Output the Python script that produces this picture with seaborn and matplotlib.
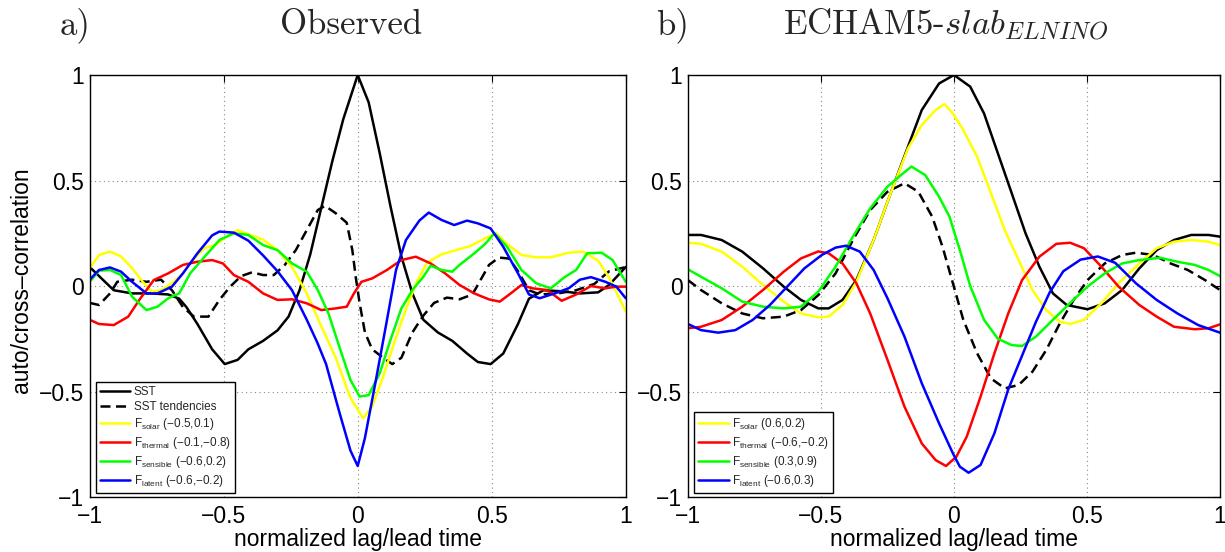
import numpy as np
import pandas as pd
import matplotlib
matplotlib.use("Agg")
import matplotlib.pyplot as plt
import seaborn as sns
from matplotlib.lines import Line2D

# ---------------- data: panel a (Observed) ----------------
a_sst_x = [-1.0, -0.91, -0.842, -0.774, -0.707, -0.666, -0.639, -0.598, -0.543, -0.496, -0.448, -0.408, -0.353, -0.299,
           -0.258, -0.217, -0.177, -0.136, -0.095, -0.054, 0.0, 0.041, 0.082, 0.122, 0.163, 0.204, 0.245, 0.299, 0.353,
           0.408, 0.448, 0.496, 0.543, 0.598, 0.639, 0.693, 0.761, 0.829, 0.897, 0.938, 1.0]
a_sst_y = [0.09, -0.02, -0.035, -0.035, -0.04, -0.06, -0.10, -0.18, -0.30, -0.37, -0.35, -0.30, -0.26, -0.21,
           -0.145, -0.02, 0.15, 0.37, 0.59, 0.79, 1.0, 0.87, 0.63, 0.38, 0.14, -0.035, -0.16, -0.22, -0.26,
           -0.32, -0.36, -0.37, -0.32, -0.18, -0.06, -0.02, -0.025, -0.035, -0.03, 0.005, 0.09]

a_tend_x = [-1.0, -0.965, -0.924, -0.897, -0.842, -0.788, -0.734, -0.693, -0.652, -0.611, -0.557, -0.516, -0.476,
            -0.435, -0.394, -0.353, -0.313, -0.272, -0.231, -0.190, -0.149, -0.122, -0.082, -0.041, -0.020, -0.007,
            0.007, 0.027, 0.054, 0.095, 0.129, 0.163, 0.204, 0.245, 0.285, 0.333, 0.380, 0.428, 0.49, 0.527, 0.565,
            0.598, 0.639, 0.679, 0.747, 0.815, 0.883, 0.938, 1.0]
a_tend_y = [-0.08, -0.09, -0.035, 0.02, 0.03, 0.02, 0.03, -0.02, -0.10, -0.145, -0.145, -0.066, -0.003,
            0.047, 0.065, 0.052, 0.052, 0.10, 0.17, 0.265, 0.36, 0.38, 0.345, 0.30, 0.17, 0.04,
            -0.08, -0.22, -0.30, -0.34, -0.37, -0.34, -0.22, -0.14, -0.08, -0.055, -0.063, -0.04, 0.10, 0.135, 0.13,
            0.07, -0.02, -0.04, -0.035, -0.02, 0.01, 0.07, 0.09]

a_solar_x = [-1.0, -0.965, -0.924, -0.883, -0.842, -0.802, -0.768, -0.734, -0.693, -0.652, -0.611, -0.571, -0.530,
             -0.489, -0.448, -0.408, -0.353, -0.299, -0.245, -0.190, -0.136, -0.082, -0.027, 0.020, 0.054, 0.095,
             0.136, 0.177, 0.217, 0.258, 0.313, 0.367, 0.421, 0.476, 0.516, 0.557, 0.611, 0.666, 0.720, 0.788,
             0.842, 0.897, 0.938, 1.0]
a_solar_y = [0.085, 0.147, 0.163, 0.14, 0.085, 0.02, -0.027, -0.02, 0.013, 0.06, 0.13, 0.18, 0.195,
             0.235, 0.265, 0.245, 0.22, 0.17, 0.09, -0.035, -0.19, -0.34, -0.53, -0.627, -0.57, -0.43,
             -0.27, -0.12, 0.01, 0.11, 0.15, 0.17, 0.19, 0.226, 0.25, 0.2, 0.147, 0.136, 0.136, 0.158,
             0.163, 0.12, 0.04, -0.12]

a_thermal_x = [-1.0, -0.965, -0.91, -0.856, -0.815, -0.761, -0.707, -0.652, -0.598, -0.543, -0.503, -0.462, -0.408,
               -0.353, -0.299, -0.245, -0.190, -0.136, -0.082, -0.041, -0.014, 0.014, 0.054, 0.109, 0.163, 0.217,
               0.272, 0.326, 0.380, 0.435, 0.489, 0.530, 0.571, 0.611, 0.652, 0.707, 0.761, 0.815, 0.870, 0.924,
               0.965, 1.0]
a_thermal_y = [-0.16, -0.18, -0.185, -0.145, -0.066, 0.028, 0.06, 0.10, 0.115, 0.123, 0.107, 0.052, 0.02,
               -0.035, -0.066, -0.063, -0.082, -0.114, -0.106, -0.098, -0.035, 0.02, 0.036, 0.076, 0.123, 0.139,
               0.107, 0.06, 0.005, -0.035, -0.063, -0.074, -0.035, 0.005, -0.011, -0.019, -0.07, -0.04, 0.0, -0.011,
               -0.003, -0.003]

a_sens_x = [-1.0, -0.965, -0.924, -0.883, -0.842, -0.788, -0.747, -0.707, -0.666, -0.625, -0.571, -0.516, -0.462,
            -0.408, -0.353, -0.299, -0.245, -0.190, -0.149, -0.109, -0.068, -0.027, 0.007, 0.041, 0.082, 0.122,
            0.163, 0.204, 0.245, 0.272, 0.313, 0.353, 0.380, 0.435, 0.476, 0.510, 0.557, 0.611, 0.666, 0.720,
            0.774, 0.815, 0.856, 0.910, 0.951, 1.0]
a_sens_y = [0.02, 0.073, 0.076, 0.052, -0.05, -0.114, -0.098, -0.058, -0.035, 0.06, 0.139, 0.218, 0.25,
            0.242, 0.194, 0.17, 0.107, 0.068, -0.019, -0.13, -0.29, -0.445, -0.524, -0.517, -0.414, -0.256,
            -0.106, -0.019, 0.044, 0.096, 0.076, 0.068, 0.1, 0.155, 0.2, 0.25, 0.186, 0.076, 0.013, -0.011,
            0.044, 0.076, 0.155, 0.158, 0.123, 0.02]

a_lat_x = [-1.0, -0.965, -0.924, -0.883, -0.842, -0.788, -0.747, -0.693, -0.652, -0.598, -0.543, -0.516, -0.462,
           -0.408, -0.353, -0.299, -0.245, -0.19, -0.15, -0.118, -0.068, -0.027, 0.0, 0.027, 0.068, 0.105, 0.143,
           0.18, 0.23, 0.265, 0.313, 0.36, 0.408, 0.448, 0.496, 0.543, 0.598, 0.639, 0.679, 0.747, 0.788, 0.829,
           0.87, 0.924, 0.965, 1.0]
a_lat_y = [0.03, 0.076, 0.088, 0.068, 0.02, -0.035, -0.035, -0.003, 0.06, 0.155, 0.24, 0.258, 0.253,
           0.215, 0.145, 0.07, -0.02, -0.16, -0.27, -0.37, -0.6, -0.78, -0.853, -0.72, -0.445, -0.19, 0.076,
           0.218, 0.31, 0.348, 0.313, 0.289, 0.31, 0.297, 0.273, 0.186, 0.06, -0.04, -0.058, -0.03, -0.01, 0.03,
           0.042, 0.02, -0.003, -0.058]

# ---------------- data: panel b (ECHAM5-slab) ----------------
b_sst_x = [-1.0, -0.951, -0.873, -0.796, -0.718, -0.640, -0.575, -0.510, -0.471, -0.419, -0.367, -0.302, -0.238,
           -0.173, -0.121, -0.056, 0.0, 0.061, 0.113, 0.165, 0.217, 0.269, 0.321, 0.372, 0.424, 0.502, 0.567,
           0.632, 0.697, 0.762, 0.827, 0.892, 0.957, 1.0]
b_sst_y = [0.242, 0.242, 0.218, 0.163, 0.084, -0.003, -0.066, -0.106, -0.106, -0.066, 0.028, 0.218, 0.44,
           0.66, 0.834, 0.96, 1.0, 0.945, 0.818, 0.629, 0.44, 0.25, 0.092, -0.035, -0.09, -0.11, -0.082,
           -0.019, 0.084, 0.17, 0.218, 0.242, 0.242, 0.234]

b_tend_x = [-1.0, -0.951, -0.873, -0.796, -0.718, -0.640, -0.575, -0.510, -0.445, -0.380, -0.315, -0.250, -0.186,
            -0.134, -0.082, -0.043, -0.004, 0.035, 0.087, 0.139, 0.191, 0.243, 0.295, 0.347, 0.398, 0.450, 0.502,
            0.567, 0.632, 0.684, 0.749, 0.814, 0.879, 0.944, 1.0]
b_tend_y = [0.028, -0.019, -0.082, -0.13, -0.153, -0.145, -0.114, -0.043, 0.06, 0.218, 0.36, 0.447, 0.487,
            0.447, 0.329, 0.186, 0.013, -0.16, -0.319, -0.438, -0.485, -0.469, -0.406, -0.303, -0.177, -0.066,
            0.028, 0.107, 0.147, 0.158, 0.147, 0.107, 0.076, 0.028, -0.019]

b_solar_x = [-1.0, -0.951, -0.873, -0.796, -0.718, -0.640, -0.575, -0.510, -0.471, -0.419, -0.367, -0.302, -0.238,
             -0.173, -0.121, -0.069, -0.036, -0.004, 0.035, 0.087, 0.139, 0.191, 0.243, 0.295, 0.347, 0.398,
             0.437, 0.489, 0.554, 0.619, 0.697, 0.762, 0.827, 0.892, 0.957, 1.0]
b_solar_y = [0.205, 0.2, 0.163, 0.092, 0.005, -0.074, -0.13, -0.148, -0.145, -0.09, 0.02, 0.218, 0.44,
             0.652, 0.763, 0.834, 0.862, 0.818, 0.739, 0.613, 0.44, 0.265, 0.123, -0.019, -0.114, -0.169,
             -0.18, -0.16, -0.082, 0.013, 0.107, 0.179, 0.21, 0.218, 0.21, 0.194]

b_thermal_x = [-1.0, -0.951, -0.873, -0.796, -0.718, -0.640, -0.575, -0.510, -0.471, -0.419, -0.367, -0.315,
               -0.250, -0.186, -0.121, -0.069, -0.030, 0.009, 0.048, 0.100, 0.152, 0.204, 0.256, 0.321, 0.385,
               0.437, 0.489, 0.554, 0.619, 0.697, 0.762, 0.827, 0.905, 0.957, 1.0]
b_thermal_y = [-0.2, -0.193, -0.161, -0.098, -0.019, 0.068, 0.131, 0.164, 0.155, 0.107, 0.013, -0.13,
               -0.35, -0.572, -0.746, -0.825, -0.853, -0.809, -0.714, -0.524, -0.319, -0.13, 0.028, 0.139, 0.2,
               0.205, 0.179, 0.092, -0.003, -0.09, -0.145, -0.193, -0.205, -0.2, -0.182]

b_sens_x = [-1.0, -0.951, -0.873, -0.796, -0.718, -0.640, -0.575, -0.510, -0.445, -0.380, -0.315, -0.250, -0.199,
            -0.160, -0.108, -0.056, -0.017, 0.022, 0.061, 0.113, 0.165, 0.217, 0.256, 0.308, 0.372, 0.437,
            0.502, 0.567, 0.632, 0.697, 0.775, 0.840, 0.905, 0.957, 1.0]
b_sens_y = [0.079, 0.044, -0.011, -0.074, -0.098, -0.106, -0.098, -0.027, 0.092, 0.234, 0.368, 0.471, 0.526,
            0.566, 0.526, 0.423, 0.329, 0.171, 0.0, -0.16, -0.25, -0.28, -0.284, -0.24, -0.16, -0.08,
            -0.003, 0.06, 0.107, 0.123, 0.134, 0.115, 0.1, 0.076, 0.047]

b_lat_x = [-1.0, -0.951, -0.886, -0.822, -0.757, -0.692, -0.627, -0.562, -0.497, -0.445, -0.406, -0.354, -0.302,
           -0.250, -0.186, -0.121, -0.056, -0.004, 0.022, 0.055, 0.100, 0.152, 0.204, 0.256, 0.308, 0.360, 0.411,
           0.476, 0.541, 0.606, 0.684, 0.762, 0.840, 0.918, 1.0]
b_lat_y = [-0.18, -0.209, -0.221, -0.209, -0.161, -0.09, -0.003, 0.084, 0.147, 0.182, 0.191, 0.163, 0.076,
           -0.058, -0.24, -0.461, -0.651, -0.793, -0.856, -0.885, -0.848, -0.698, -0.49, -0.33, -0.17, -0.03, 0.07,
           0.125, 0.14, 0.11, 0.013, -0.066, -0.13, -0.185, -0.221]

series_names = ["SST", "SST tendencies", "solar", "thermal", "sensible", "latent"]
colors = {"SST": "#000000", "SST tendencies": "#000000", "solar": "#FFFF00",
          "thermal": "#FF0000", "sensible": "#00FF00", "latent": "#0000FF"}
dashes = {"SST": "", "SST tendencies": (4, 2.2), "solar": "", "thermal": "", "sensible": "", "latent": ""}

MINUS = "\u2212"
a_legend_labels = ["SST", "SST tendencies",
                   r"F$_{\mathrm{solar}}$ (" + MINUS + "0.5,0.1)",
                   r"F$_{\mathrm{thermal}}$ (" + MINUS + "0.1," + MINUS + "0.8)",
                   r"F$_{\mathrm{sensible}}$ (" + MINUS + "0.6,0.2)",
                   r"F$_{\mathrm{latent}}$ (" + MINUS + "0.6," + MINUS + "0.2)"]
b_legend_labels = [r"F$_{\mathrm{solar}}$ (0.6,0.2)",
                   r"F$_{\mathrm{thermal}}$ (" + MINUS + "0.6," + MINUS + "0.2)",
                   r"F$_{\mathrm{sensible}}$ (0.3,0.9)",
                   r"F$_{\mathrm{latent}}$ (" + MINUS + "0.6,0.3)"]
tick_vals = [-1, -0.5, 0, 0.5, 1]
tick_labels = [MINUS + "1", MINUS + "0.5", "0", "0.5", "1"]


def long_frame(pairs):
    frames = []
    for name, (xs, ys) in zip(series_names, pairs):
        frames.append(pd.DataFrame({"x": xs, "y": ys, "series": name}))
    return pd.concat(frames, ignore_index=True)


dfa = long_frame([(a_sst_x, a_sst_y), (a_tend_x, a_tend_y), (a_solar_x, a_solar_y),
                  (a_thermal_x, a_thermal_y), (a_sens_x, a_sens_y), (a_lat_x, a_lat_y)])
dfb = long_frame([(b_sst_x, b_sst_y), (b_tend_x, b_tend_y), (b_solar_x, b_solar_y),
                  (b_thermal_x, b_thermal_y), (b_sens_x, b_sens_y), (b_lat_x, b_lat_y)])

sns.set_theme(style="white")
plt.rcParams["font.family"] = ["Liberation Sans", "DejaVu Sans"]
plt.rcParams["mathtext.fontset"] = "custom"
plt.rcParams["mathtext.rm"] = "Liberation Sans"
plt.rcParams["mathtext.it"] = "Liberation Sans:italic"
plt.rcParams["axes.unicode_minus"] = True

fig = plt.figure(figsize=(12.25, 5.52), dpi=100)
axA = fig.add_axes([0.0732, 0.0996, 0.4376, 0.7645])
axB = fig.add_axes([0.5616, 0.0996, 0.4343, 0.7645])

LW = 1.8
for ax, df in ((axA, dfa), (axB, dfb)):
    sns.lineplot(data=df, x="x", y="y", hue="series", style="series", hue_order=series_names,
                 style_order=series_names, palette=colors, dashes=dashes, estimator=None,
                 sort=False, linewidth=LW, legend=False, ax=ax)
    ax.set_xlim(-1, 1)
    ax.set_ylim(-1, 1)
    ax.set_xticks(tick_vals)
    ax.set_xticklabels(tick_labels)
    ax.set_yticks(tick_vals)
    ax.set_yticklabels(tick_labels)
    ax.grid(True, linestyle=(0, (1, 3)), color="#8a8a8a", linewidth=0.8)
    ax.tick_params(axis="both", direction="in", length=5, width=0.8, top=True, right=True,
                   labelsize=16.5, colors="black")
    ax.tick_params(axis="x", pad=6)
    ax.tick_params(axis="y", pad=4)
    for sp in ax.spines.values():
        sp.set_color("black")
        sp.set_linewidth(1.0)
    ax.set_xlabel("normalized lag/lead time", fontsize=16.5, color="black")
    ax.xaxis.set_label_coords(0.5, -0.073)
    ax.set_ylabel("")

axA.set_ylabel("auto/cross\u2013correlation", fontsize=16.5, color="black")
axA.yaxis.set_label_coords(-0.106, 0.514)

# legends
a_handles = [Line2D([], [], color=colors[n], linewidth=LW,
                    linestyle=(0, dashes[n]) if dashes[n] else "-") for n in series_names]
b_handles = [Line2D([], [], color=colors[n], linewidth=LW) for n in series_names[2:]]

for ax, hs, labs in ((axA, a_handles, a_legend_labels), (axB, b_handles, b_legend_labels)):
    leg = ax.legend(hs, labs, loc="lower left", bbox_to_anchor=(0.011, 0.01),
                    borderaxespad=0, fontsize=8.5, frameon=True, fancybox=False, framealpha=1,
                    edgecolor="black", handlelength=2.6, handletextpad=0.3, labelspacing=0.25,
                    borderpad=0.35)
    leg.get_frame().set_linewidth(1.0)

# titles (Computer Modern look)
ty = 1 - 25 / 552
fig.text(60 / 1225, ty, "a)", fontfamily="cmr10", fontsize=25, va="center", ha="left")
fig.text(351 / 1225, ty, "Observed", fontfamily="cmr10", fontsize=25, va="center", ha="center")
fig.text(656 / 1225, ty, "b)", fontfamily="cmr10", fontsize=25, va="center", ha="left")
fig.text(946 / 1225, ty, "ECHAM5-$slab_{ELNINO}$", fontfamily="cmr10", math_fontfamily="cm",
         fontsize=25, va="center", ha="center")

fig.savefig("out.png", dpi=100, facecolor="white")
